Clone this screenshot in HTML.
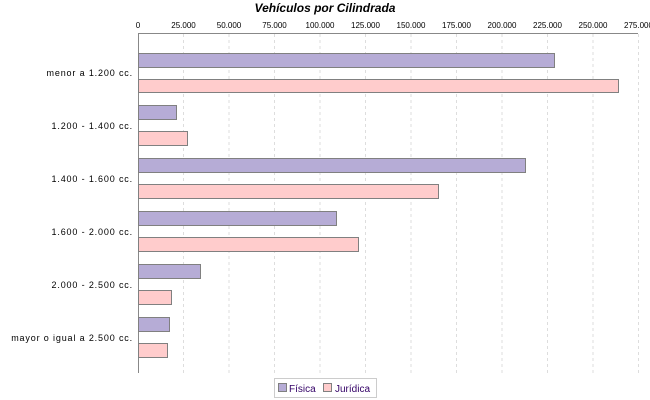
<!DOCTYPE html>
<html><head><meta charset="utf-8"><style>
html,body{margin:0;padding:0;background:#fff;width:650px;height:400px;overflow:hidden}
text{font-family:"Liberation Sans",sans-serif}
</style></head><body>
<svg width="650" height="400" xmlns="http://www.w3.org/2000/svg">
<text x="325" y="12" text-anchor="middle" font-size="12" font-weight="bold" font-style="italic">Vehículos por Cilindrada</text>
<g stroke="#ddd" stroke-dasharray="3,3" stroke-width="1">
<line x1="183.5" y1="34" x2="183.5" y2="373"/><line x1="229" y1="34" x2="229" y2="373"/>
<line x1="274.5" y1="34" x2="274.5" y2="373"/><line x1="320" y1="34" x2="320" y2="373"/>
<line x1="365.5" y1="34" x2="365.5" y2="373"/><line x1="411" y1="34" x2="411" y2="373"/>
<line x1="456.5" y1="34" x2="456.5" y2="373"/><line x1="502" y1="34" x2="502" y2="373"/>
<line x1="547.5" y1="34" x2="547.5" y2="373"/><line x1="593" y1="34" x2="593" y2="373"/>
<line x1="638.5" y1="34" x2="638.5" y2="373"/>
</g>
<line x1="138" y1="33.5" x2="638" y2="33.5" stroke="#888"/>
<line x1="138.5" y1="33" x2="138.5" y2="373" stroke="#888"/>
<g font-size="8" text-anchor="middle" fill="#000">
<text x="138" y="28">0</text><text x="183.5" y="28">25.000</text><text x="229" y="28">50.000</text>
<text x="274.5" y="28">75.000</text><text x="320" y="28">100.000</text><text x="365.5" y="28">125.000</text>
<text x="411" y="28">150.000</text><text x="456.5" y="28">175.000</text><text x="502" y="28">200.000</text>
<text x="547.5" y="28">225.000</text><text x="593" y="28">250.000</text><text x="638.5" y="28">275.000</text>
</g>
<g stroke="#808080" stroke-width="1">
<g fill="#b6acd6">
<rect x="138.5" y="53.5" width="416" height="14"/>
<rect x="138.5" y="105.5" width="38" height="14"/>
<rect x="138.5" y="158.5" width="387" height="14"/>
<rect x="138.5" y="211.5" width="198" height="14"/>
<rect x="138.5" y="264.5" width="62" height="14"/>
<rect x="138.5" y="317.5" width="31" height="14"/>
</g>
<g fill="#ffcccc">
<rect x="138.5" y="79.5" width="480" height="13"/>
<rect x="138.5" y="131.5" width="49" height="14"/>
<rect x="138.5" y="184.5" width="300" height="14"/>
<rect x="138.5" y="237.5" width="220" height="14"/>
<rect x="138.5" y="290.5" width="33" height="14"/>
<rect x="138.5" y="343.5" width="29" height="14"/>
</g>
</g>
<g font-size="9" text-anchor="end" fill="#000" letter-spacing="0.85">
<text x="133" y="76">menor a 1.200 cc.</text>
<text x="133" y="129">1.200 - 1.400 cc.</text>
<text x="133" y="182">1.400 - 1.600 cc.</text>
<text x="133" y="235">1.600 - 2.000 cc.</text>
<text x="133" y="288">2.000 - 2.500 cc.</text>
<text x="133" y="341">mayor o igual a 2.500 cc.</text>
</g>
<rect x="274.5" y="378.5" width="102" height="19" fill="#fff" stroke="#ccc"/>
<rect x="278.5" y="383.5" width="8" height="8" fill="#b6acd6" stroke="#808080"/>
<text x="289" y="392" font-size="10" fill="#330066">Física</text>
<rect x="323.5" y="383.5" width="8" height="8" fill="#ffcccc" stroke="#808080"/>
<text x="335" y="392" font-size="10" fill="#330066">Jurídica</text>
</svg>
</body></html>
